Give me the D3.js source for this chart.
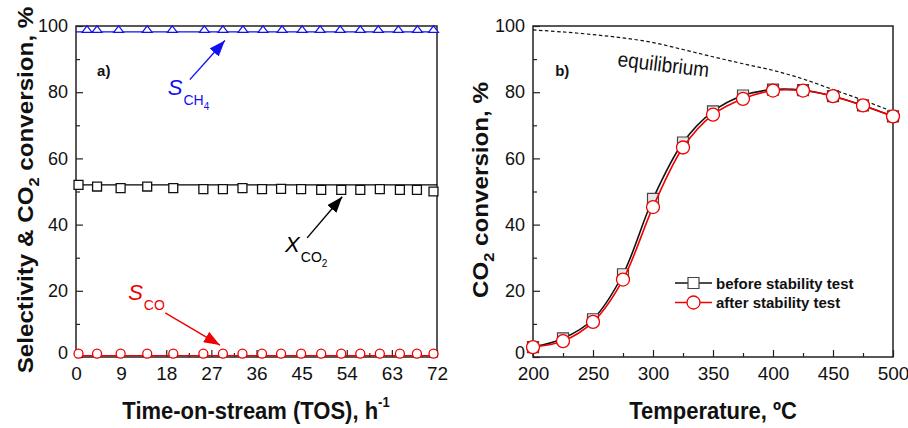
<!DOCTYPE html>
<html>
<head>
<meta charset="utf-8">
<script src="https://cdn.jsdelivr.net/npm/d3@7"></script>
<style>
  body { margin: 0; background: #fff; }
  svg text { font-family: Arial, "Liberation Sans", sans-serif; fill: #111; }
</style>
</head>
<body>
<div id="chart"></div>
<script>
// ---- panel a) stability test ----
let tos_hours = [0.5, 4.2, 8.9, 14.2, 19.4, 25.4, 29.3, 33.2, 37.1, 40.9, 44.9, 48.9, 52.9, 56.7, 60.6, 64.6, 68.0, 71.3]
let tos_ch4_hours = [2.2, 4.2, 8.5, 14.2, 19.2, 25.6, 29.3, 33.3, 37.3, 41.1, 45.1, 48.7, 52.7, 56.7, 60.3, 64.3, 68.1, 71.3]
let s_ch4 = [99, 99, 99, 99, 99, 99, 99, 99, 99, 99, 99, 99, 99, 99, 99, 99, 99, 99]
let x_co2 = [52.0, 51.5, 51.0, 51.5, 51.0, 50.7, 50.7, 51.0, 50.7, 50.8, 50.7, 50.5, 50.5, 50.5, 50.7, 50.5, 50.5, 50.0]
let s_co = [1.0, 1.0, 1.0, 1.0, 1.0, 1.0, 1.0, 1.0, 1.0, 1.0, 1.0, 1.0, 1.0, 1.0, 1.0, 1.0, 1.0, 1.0]
let fit_hours = [0, 72]
let fit_ch4 = [98.2, 98.2]
let fit_co2 = [52.0, 52.0]
let fit_co = [0.4, 0.4]
let tos_ticks = [0, 9, 18, 27, 36, 45, 54, 63, 72]
let tos_minor = [4.5, 13.5, 22.5, 31.5, 40.5, 49.5, 58.5, 67.5]

// ---- panel b) temperature ----
let temps = [200, 225, 250, 275, 300, 325, 350, 375, 400, 425, 450, 475, 500]
let conv_before = [3.0, 5.6, 11.4, 25.0, 47.8, 64.8, 74.2, 79.0, 80.8, 80.6, 78.8, 76.0, 72.7]
let conv_after = [3.0, 4.8, 10.6, 23.4, 45.3, 63.3, 73.2, 78.0, 80.5, 80.5, 78.8, 76.0, 72.7]
let equilibrium = [98.8, 98.2, 97.4, 96.4, 95.0, 92.9, 90.7, 88.6, 86.6, 84.0, 80.8, 77.6, 74.1]
let temp_ticks = [200, 250, 300, 350, 400, 450, 500]
let temp_minor = [225, 275, 325, 375, 425, 475]

let pct_ticks = [0, 20, 40, 60, 80, 100]
let pct_minor = [10, 30, 50, 70, 90]

let width = 908
let height = 428
let stretch = 1.1

let svg = d3.select("#chart").append("svg")
  .attr("width", width)
  .attr("height", height)

let y = d3.scaleLinear().domain([0, 100]).range([357, 26])
let xa = d3.scaleLinear().domain([0, 72]).range([76, 437])
let xb = d3.scaleLinear().domain([200, 500]).range([533, 893])

function drawAxes(x, xt, xm) {
  let g = svg.append("g")

  g.append("g")
    .attr("transform", "translate(0," + y(0) + ")")
    .call(d3.axisBottom(x).tickValues(xm).tickSizeInner(-4).tickSizeOuter(0).tickFormat(""))
  g.append("g")
    .attr("class", "xmaj")
    .attr("transform", "translate(0," + y(0) + ")")
    .call(d3.axisBottom(x).tickValues(xt).tickSizeInner(-7).tickSizeOuter(0).tickPadding(10))

  g.append("g")
    .attr("transform", "translate(" + x.range()[0] + ",0)")
    .call(d3.axisLeft(y).tickValues(pct_minor).tickSizeInner(-4).tickSizeOuter(0).tickFormat(""))
  g.append("g")
    .attr("class", "ymaj")
    .attr("transform", "translate(" + x.range()[0] + ",0)")
    .call(d3.axisLeft(y).tickValues(pct_ticks).tickSizeInner(-7).tickSizeOuter(0).tickPadding(8))

  g.selectAll(".domain").remove()
  g.selectAll(".tick line").attr("stroke", "#222").attr("stroke-width", 1.2)
  g.selectAll(".xmaj text").attr("font-size", 19).attr("fill", "#111")
  g.selectAll(".ymaj text").attr("font-size", 18).attr("fill", "#111")
  // lift the bottom "0" a little so it clears the x labels
  g.selectAll(".ymaj .tick").filter(d => d == 0).select("text").attr("dy", "0.1em")

  svg.append("rect")
    .attr("x", x.range()[0])
    .attr("y", y(100))
    .attr("width", x.range()[1] - x.range()[0])
    .attr("height", y(0) - y(100))
    .attr("fill", "none")
    .attr("stroke", "#222")
    .attr("stroke-width", 1.5)
}

drawAxes(xa, tos_ticks, tos_minor)
drawAxes(xb, temp_ticks, temp_minor)

// arrow heads
let defs = svg.append("defs")
;[["blue", "#1010f0"], ["black", "#000"], ["red", "#f00000"]].forEach(c => {
  defs.append("marker")
    .attr("id", "arrow-" + c[0])
    .attr("viewBox", "0 0 16 12")
    .attr("refX", 16).attr("refY", 6)
    .attr("markerWidth", 16).attr("markerHeight", 12)
    .attr("markerUnits", "userSpaceOnUse")
    .attr("orient", "auto")
    .append("path")
    .attr("d", "M0,0 L16,6 L0,12 Z")
    .attr("fill", c[1])
})

// ---- panel a marks ----
let lineA = d3.line().x(d => xa(d[0])).y(d => y(d[1]))
let fits = [[fit_ch4, "#1010f0"], [fit_co2, "#000"], [fit_co, "#f00000"]]
fits.forEach(f => {
  svg.append("path")
    .datum(fit_hours.map((h, i) => [h, f[0][i]]))
    .attr("fill", "none")
    .attr("stroke", f[1])
    .attr("stroke-width", 1.3)
    .attr("d", lineA)
})

svg.append("g").selectAll("path")
  .data(tos_ch4_hours.map((h, i) => [h, s_ch4[i]]))
  .join("path")
  .attr("transform", d => "translate(" + xa(d[0]) + "," + y(d[1]) + ")")
  .attr("d", "M0,-3.5 L5,3 L-5,3 Z")
  .attr("fill", "white")
  .attr("stroke", "#1010f0")
  .attr("stroke-width", 1.2)

svg.append("g").selectAll("path")
  .data(tos_hours.map((h, i) => [h, x_co2[i]]))
  .join("path")
  .attr("transform", d => "translate(" + xa(d[0]) + "," + y(d[1]) + ")")
  .attr("d", d3.symbol(d3.symbolSquare, 80))
  .attr("fill", "white")
  .attr("stroke", "#111")
  .attr("stroke-width", 1.3)

svg.append("g").selectAll("circle")
  .data(tos_hours.map((h, i) => [h, s_co[i]]))
  .join("circle")
  .attr("cx", d => xa(d[0]))
  .attr("cy", d => y(d[1]))
  .attr("r", 4.5)
  .attr("fill", "white")
  .attr("stroke", "#f00000")
  .attr("stroke-width", 1.3)

// annotations (data coords)
let arrows = [
  [[22.7, 83.8], [29.7, 95.6], "blue", "#1010f0"],
  [[46.1, 36.0], [53.1, 48.4], "black", "#000"],
  [[17.8, 13.3], [28.7, 3.6], "red", "#f00000"]
]
arrows.forEach(a => {
  svg.append("line")
    .attr("x1", xa(a[0][0])).attr("y1", y(a[0][1]))
    .attr("x2", xa(a[1][0])).attr("y2", y(a[1][1]))
    .attr("stroke", a[3])
    .attr("stroke-width", 1.4)
    .attr("marker-end", "url(#arrow-" + a[2] + ")")
})

function subLabel(hx, val, main, sub, subsub, color) {
  let t = svg.append("text")
    .attr("x", xa(hx)).attr("y", y(val))
    .attr("font-size", 22)
    .style("fill", color)
  t.append("tspan").attr("font-style", "italic").text(main)
  t.append("tspan").attr("font-size", 14).attr("dx", 1).attr("dy", 10).text(sub)
  if (subsub) t.append("tspan").attr("font-size", 10).attr("dy", 5).text(subsub)
}
subLabel(18.3, 79.2, "S", "CH", "4", "#1010f0")
subLabel(41.7, 31.8, "X", "CO", "2", "#000")
subLabel(10.4, 17.2, "S", "CO", null, "#f00000")

svg.append("text")
  .attr("x", xa(4.2)).attr("y", y(84.8))
  .attr("font-size", 15).attr("font-weight", "bold")
  .text("a)")

// ---- panel b marks ----
let curveB = d3.line().x(d => xb(d[0])).y(d => y(d[1])).curve(d3.curveCatmullRom.alpha(0.5))

svg.append("path")
  .datum(temps.map((t, i) => [t, equilibrium[i]]))
  .attr("fill", "none")
  .attr("stroke", "#111")
  .attr("stroke-width", 1.2)
  .attr("stroke-dasharray", "3.5,2.5")
  .attr("d", curveB)

svg.append("path")
  .datum(temps.map((t, i) => [t, conv_before[i]]))
  .attr("fill", "none")
  .attr("stroke", "#111")
  .attr("stroke-width", 1.6)
  .attr("d", curveB)

svg.append("g").selectAll("path")
  .data(temps.map((t, i) => [t, conv_before[i]]))
  .join("path")
  .attr("transform", d => "translate(" + xb(d[0]) + "," + y(d[1]) + ")")
  .attr("d", d3.symbol(d3.symbolSquare, 121))
  .attr("fill", "#e8e8e8")
  .attr("stroke", "#444")
  .attr("stroke-width", 1.2)

svg.append("path")
  .datum(temps.map((t, i) => [t, conv_after[i]]))
  .attr("fill", "none")
  .attr("stroke", "#f00000")
  .attr("stroke-width", 1.6)
  .attr("d", curveB)

svg.append("g").selectAll("circle")
  .data(temps.map((t, i) => [t, conv_after[i]]))
  .join("circle")
  .attr("cx", d => xb(d[0]))
  .attr("cy", d => y(d[1]))
  .attr("r", 6.5)
  .attr("fill", "white")
  .attr("stroke", "#f00000")
  .attr("stroke-width", 1.3)

svg.append("text")
  .attr("x", xb(218.5)).attr("y", y(84.8))
  .attr("font-size", 15).attr("font-weight", "bold")
  .text("b)")

svg.append("text")
  .attr("transform", "translate(" + xb(308) + "," + y(86.2) + ") rotate(7) scale(1," + stretch + ")")
  .attr("text-anchor", "middle")
  .attr("font-size", 19)
  .text("equilibrium")

// legend
let legend = [["before stability test", "#111", "square"], ["after stability test", "#f00000", "circle"]]
legend.forEach((l, i) => {
  let ly = 283 + i * 19.5
  svg.append("line")
    .attr("x1", 675).attr("x2", 712).attr("y1", ly).attr("y2", ly)
    .attr("stroke", l[1]).attr("stroke-width", 1.6)
  if (l[2] == "square") {
    svg.append("path")
      .attr("transform", "translate(693.5," + ly + ")")
      .attr("d", d3.symbol(d3.symbolSquare, 121))
      .attr("fill", "white").attr("stroke", "#444").attr("stroke-width", 1.2)
  } else {
    svg.append("circle")
      .attr("cx", 693.5).attr("cy", ly).attr("r", 6.5)
      .attr("fill", "white").attr("stroke", l[1]).attr("stroke-width", 1.3)
  }
  svg.append("text")
    .attr("x", 716).attr("y", ly + 5.5)
    .attr("font-size", 15).attr("font-weight", "bold")
    .text(l[0])
})

// ---- axis titles ----
let tA = svg.append("text")
  .attr("transform", "translate(256,419) scale(1," + stretch + ")")
  .attr("text-anchor", "middle")
  .attr("font-size", 22).attr("font-weight", "bold")
tA.append("tspan").text("Time-on-stream (TOS), h")
tA.append("tspan").attr("font-size", 13).attr("dy", -11).text("-1")

svg.append("text")
  .attr("transform", "translate(713,419) scale(1," + stretch + ")")
  .attr("text-anchor", "middle")
  .attr("font-size", 22).attr("font-weight", "bold")
  .text("Temperature, ºC")

function yTitle(x, parts) {
  let t = svg.append("text")
    .attr("transform", "translate(" + x + ",190) rotate(-90) scale(" + stretch + ",1)")
    .attr("text-anchor", "middle")
    .attr("font-size", 22).attr("font-weight", "bold")
  parts.forEach(p => {
    let s = t.append("tspan").text(p[0])
    if (p[1] == "sub") s.attr("font-size", 15).attr("dy", 6)
    if (p[1] == "back") s.attr("dy", -6)
  })
}
yTitle(33, [["Selectivity & CO"], ["2", "sub"], [" conversion, %", "back"]])
yTitle(488, [["CO"], ["2", "sub"], [" conversion, %", "back"]])
</script>
</body>
</html>
